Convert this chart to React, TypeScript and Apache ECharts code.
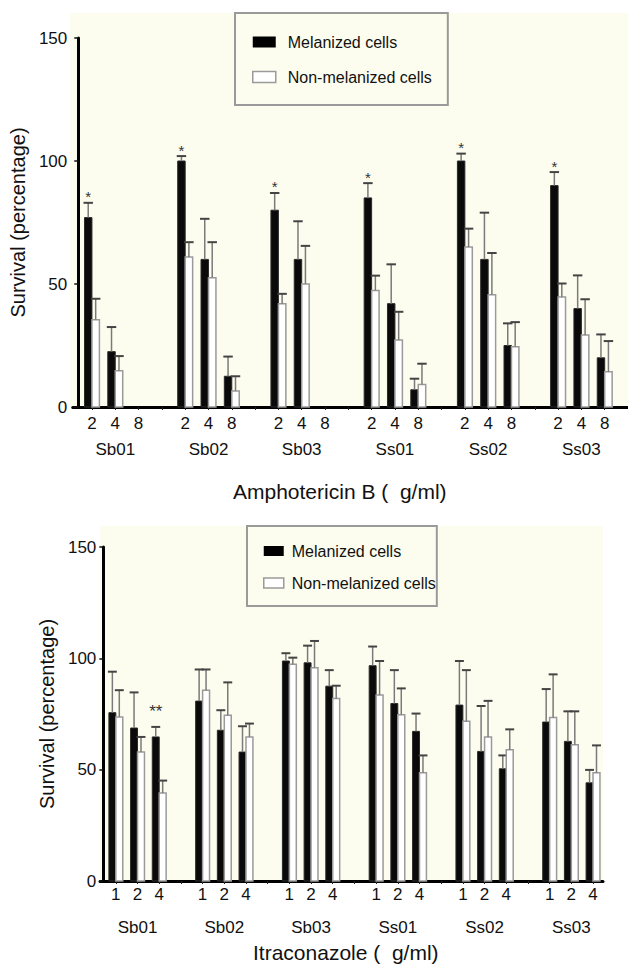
import React, { useEffect, useRef } from 'react';
import * as echarts from 'echarts';

const FONT = "'Liberation Sans', Arial, Helvetica, sans-serif";

// Strains (groups) and drug concentrations
const groups = ['Sb01', 'Sb02', 'Sb03', 'Ss01', 'Ss02', 'Ss03'];
const amphoConc = ['2', '4', '8'];
const itraConc = ['1', '2', '4'];

// Amphotericin B: mean survival (%) and SD, 3 concentrations per strain
const amphoMel = [77, 22.5, 0, 100, 60, 12.5, 80, 60, 0, 85, 42, 7, 100, 60, 25, 90, 40, 20];
const amphoMelSd = [6, 10, 0, 2, 16.5, 8, 7, 15.5, 0, 6, 16, 4.5, 3, 19, 9, 5.5, 13.5, 9.5];
const amphoNon = [35.5, 14.7, 0, 61, 52.5, 6.5, 42, 50, 0, 47.4, 27.2, 9.1, 65, 45.6, 24.5, 44.7, 29.3, 14.3];
const amphoNonSd = [8.5, 6, 0, 6, 14.5, 6, 4, 15.5, 0, 6, 11.5, 8.5, 7.5, 17, 10, 5.5, 14.5, 12.5];
const amphoMelSig = ['*', '', '', '*', '', '', '*', '', '', '*', '', '', '*', '', '', '*', '', ''];
const amphoNonSig = ['', '', '', '', '', '', '', '', '', '', '', '', '', '', '', '', '', ''];

// Itraconazole
const itraMel = [75.6, 68.7, 64.7, 80.8, 67.7, 57.9, 98.8, 98, 87.5, 96.7, 79.7, 67.2, 79, 58.2, 50.4, 71.4, 62.7, 44.1];
const itraMelSd = [18.4, 16, 4.5, 14.2, 9, 11.6, 3.5, 7.7, 7.2, 8.6, 15, 8, 19.8, 20.4, 6, 14.8, 13.5, 5.8];
const itraNon = [73.7, 57.9, 39.5, 85.7, 74.4, 64.7, 97.3, 95.8, 82, 83.5, 74.7, 48.6, 71.7, 64.7, 58.9, 73.4, 61.2, 48.6];
const itraNonSd = [12, 6.8, 5.6, 9.3, 14.8, 6, 3, 12, 5.7, 15.3, 11.8, 7.8, 23, 16.2, 9.2, 19.4, 15, 12.3];
const itraMelSig = ['', '', '**', '', '', '', '', '', '', '', '', '', '', '', '', '', '', ''];
const itraNonSig = ['', '', '', '', '', '', '', '', '', '', '', '', '', '', '', '', '', ''];

const yTicks = [0, 50, 100, 150];

// x position of item i: each strain occupies 4 units, concentrations at 1,2,3
const xPos = (i: number) => Math.floor(i / 3) * 4 + (i % 3) + 1;
const concPositions = groups.flatMap((_, g) => [0, 1, 2].map((j) => g * 4 + j + 1));
const groupPositions = groups.map((_, g) => g * 4 + 2);
const tickPositions = Array.from({ length: 23 }, (_, k) => k + 1);

const BG = '#fdfdef';

function makeRenderer(side: number, frac: number, sig: string[], black: boolean, sigSize: number, sigGap: number) {
  return (params: any, api: any) => {
    const x = api.value(0);
    const v = api.value(1);
    const sd = api.value(2);
    const children: any[] = [];
    if (!v) return { type: 'group', children };
    const unit = api.size([1, 0])[0];
    const w = unit * frac;
    const base = api.coord([x, 0]);
    const top = api.coord([x, v]);
    const et = api.coord([x, v + sd]);
    const left = side < 0 ? base[0] - w : base[0];
    const cx = left + w / 2;
    children.push({
      type: 'rect',
      shape: { x: left, y: top[1], width: w, height: base[1] - top[1] },
      style: black
        ? { fill: '#0a0a0a', stroke: '#2a2a2a', lineWidth: 1 }
        : { fill: '#ffffff', stroke: '#9a9a9a', lineWidth: 1.5 },
    });
    if (sd > 0) {
      children.push({
        type: 'line',
        shape: { x1: cx, y1: top[1], x2: cx, y2: et[1] },
        style: { stroke: '#7a7a7a', lineWidth: 1.5 },
      });
      children.push({
        type: 'line',
        shape: { x1: cx - w / 2 - 1, y1: et[1], x2: cx + w / 2 + 1, y2: et[1] },
        style: { stroke: '#444', lineWidth: 2 },
      });
    }
    const s = sig[params.dataIndex];
    if (s) {
      children.push({
        type: 'text',
        x: cx,
        y: et[1] - sigGap,
        style: { text: s, fill: '#333', fontSize: sigSize, fontFamily: FONT, align: 'center', verticalAlign: 'middle' },
      });
    }
    return { type: 'group', children };
  };
}

const toData = (vals: number[], sds: number[]) => vals.map((v, i) => [xPos(i), v, sds[i]]);

export default function App() {
  const ref = useRef<HTMLDivElement>(null);
  useEffect(() => {
    if (!ref.current) return;
    const chart = echarts.init(ref.current, undefined, { renderer: 'svg' });
    const axisText = { color: '#111', fontSize: 17, fontFamily: FONT };
    const concAxis = (gridIndex: number, min: number, max: number, conc: string[], margin: number) => ({
      type: 'value',
      gridIndex,
      min,
      max,
      position: 'bottom',
      axisLine: { show: true, lineStyle: { color: '#000', width: 3 } },
      axisTick: { show: true, customValues: tickPositions, length: 3, lineStyle: { color: '#222', width: 1 } },
      axisLabel: {
        ...axisText,
        margin,
        customValues: concPositions,
        formatter: (val: number) => {
          const j = (Math.round(val) % 4) - 1;
          return j >= 0 && j < 3 ? conc[j] : '';
        },
      },
      splitLine: { show: false },
    });
    const groupAxis = (gridIndex: number, min: number, max: number, margin: number) => ({
      type: 'value',
      gridIndex,
      min,
      max,
      position: 'bottom',
      axisLine: { show: false },
      axisTick: { show: false },
      axisLabel: {
        ...axisText,
        margin,
        customValues: groupPositions,
        formatter: (val: number) => groups[Math.round((val - 2) / 4)] ?? '',
      },
      splitLine: { show: false },
    });
    const yAxis = (gridIndex: number, offset: number, margin: number, nameGap: number) => ({
      type: 'value',
      gridIndex,
      min: 0,
      max: 150,
      interval: 50,
      offset,
      name: 'Survival (percentage)',
      nameLocation: 'middle',
      nameGap,
      nameTextStyle: { color: '#111', fontSize: 20, fontFamily: FONT },
      axisLine: { show: true, lineStyle: { color: '#000', width: 3 } },
      axisTick: { show: true, length: 4, customValues: yTicks, lineStyle: { color: '#111', width: 1.5 } },
      axisLabel: { ...axisText, margin, customValues: yTicks },
      splitLine: { show: false },
    });
    const legend = (left: number, top: number, padding: number[], iw: number, ih: number, gap: number, tp: number) => ({
      orient: 'vertical',
      left,
      top,
      padding,
      itemWidth: iw,
      itemHeight: ih,
      itemGap: gap,
      borderColor: '#9a9a9a',
      borderWidth: 2,
      backgroundColor: BG,
      selectedMode: false,
      textStyle: { color: '#111', fontSize: 16, lineHeight: 16, fontFamily: FONT, padding: [0, 0, 0, tp] },
      data: [
        { name: 'Melanized cells', icon: 'rect', itemStyle: { color: '#000', borderWidth: 0 } },
        { name: 'Non-melanized cells', icon: 'rect', itemStyle: { color: '#fff', borderColor: '#9a9a9a', borderWidth: 1.5 } },
      ],
    });
    const option: any = {
      animation: false,
      textStyle: { fontFamily: FONT },
      graphic: [
        { type: 'rect', z: -10, silent: true, shape: { x: 70, y: 13, width: 558, height: 394 }, style: { fill: BG } },
        { type: 'rect', z: -10, silent: true, shape: { x: 100, y: 526, width: 503, height: 355 }, style: { fill: BG } },
      ],
      title: [
        { text: 'Amphotericin B (  g/ml)', left: 233, top: 481, padding: 0, textStyle: { color: '#111', fontSize: 21, fontWeight: 'normal', fontFamily: FONT } },
        { text: 'Itraconazole (  g/ml)', left: 253, top: 942, padding: 0, textStyle: { color: '#111', fontSize: 21, fontWeight: 'normal', fontFamily: FONT } },
      ],
      legend: [
        legend(235, 13, [21, 16, 20, 17], 23, 11, 19, 7),
        legend(247, 526, [17, 1, 15, 16], 20, 10, 16, 3),
      ],
      grid: [
        { left: 70, top: 38, width: 573, height: 369 },
        { left: 100, top: 547, width: 503, height: 334 },
      ],
      xAxis: [
        concAxis(0, 0.177, 24, amphoConc, 8),
        groupAxis(0, 0.177, 24, 34),
        concAxis(1, 0.27, 23.46, itraConc, 5),
        groupAxis(1, 0.27, 23.46, 38),
      ],
      yAxis: [yAxis(0, -5.5, 11, 40), yAxis(1, -3.3, 7, 42)],
      series: [
        { type: 'custom', name: 'Melanized cells', xAxisIndex: 0, yAxisIndex: 0, itemStyle: { color: '#000' }, data: toData(amphoMel, amphoMelSd), renderItem: makeRenderer(-1, 0.32, amphoMelSig, true, 15, 6) },
        { type: 'custom', name: 'Non-melanized cells', xAxisIndex: 0, yAxisIndex: 0, itemStyle: { color: '#fff' }, data: toData(amphoNon, amphoNonSd), renderItem: makeRenderer(1, 0.32, amphoNonSig, false, 15, 6) },
        { type: 'custom', name: 'Melanized cells', xAxisIndex: 2, yAxisIndex: 1, itemStyle: { color: '#000' }, data: toData(itraMel, itraMelSd), renderItem: makeRenderer(-1, 0.32, itraMelSig, true, 17, 15) },
        { type: 'custom', name: 'Non-melanized cells', xAxisIndex: 2, yAxisIndex: 1, itemStyle: { color: '#fff' }, data: toData(itraNon, itraNonSd), renderItem: makeRenderer(1, 0.32, itraNonSig, false, 17, 15) },
      ],
    };
    chart.setOption(option);
    return () => chart.dispose();
  }, []);
  return (
    <div
      ref={ref}
      style={{ position: 'fixed', left: 0, top: 0, width: 628, height: 966, overflow: 'hidden', background: '#fff' }}
    />
  );
}
